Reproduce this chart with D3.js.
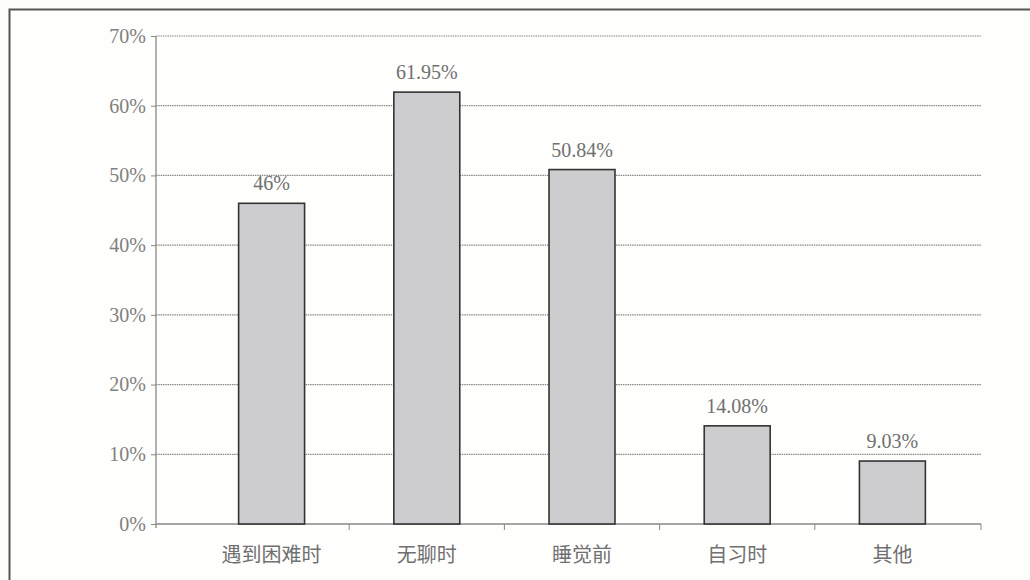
<!DOCTYPE html>
<html>
<head>
<meta charset="utf-8">
<script src="https://cdn.jsdelivr.net/npm/d3@7"></script>
<style>
    body { margin: 0; background: #fdfdfb; }
    .tick-label { font-family: "Liberation Serif", serif; font-size: 20px; fill: #808080; }
    .value-label { font-family: "Liberation Serif", serif; font-size: 20px; fill: #707070; }
    .cat-label { font-family: "Noto Sans CJK SC", sans-serif; font-size: 20px; fill: #707070; }
</style>
</head>
<body>
<div id="viz_container"></div>
<script>
// chart data
const categories = ["遇到困难时", "无聊时", "睡觉前", "自习时", "其他"];
const values = [46, 61.95, 50.84, 14.08, 9.03];
const valueLabels = ["46%", "61.95%", "50.84%", "14.08%", "9.03%"];
const yTicks = [0, 10, 20, 30, 40, 50, 60, 70];

const W = 1030, H = 580;
const plot = { left: 156, right: 981, top: 36, bottom: 524 };

const svg = d3.select("#viz_container")
    .append("svg")
    .attr("width", W)
    .attr("height", H);

// outer frame
svg.append("rect")
    .attr("x", 9.5).attr("y", 9.5)
    .attr("width", W + 10).attr("height", H + 10)
    .attr("fill", "#fefefc")
    .attr("stroke", "#555")
    .attr("stroke-width", 2);

const yScale = d3.scaleLinear()
    .domain([0, 70])
    .range([plot.bottom, plot.top]);

const xScale = d3.scaleBand()
    .domain(categories)
    .range([194, 970])
    .paddingInner(0.575)
    .paddingOuter(0.2875);

// horizontal grid lines
svg.append("g")
    .selectAll("line")
    .data(yTicks.filter(d => d > 0))
    .join("line")
    .attr("x1", plot.left).attr("x2", plot.right)
    .attr("y1", d => yScale(d)).attr("y2", d => yScale(d))
    .attr("stroke", "#8a8a8a")
    .attr("stroke-width", 1.2)
    .attr("stroke-dasharray", "1.5,0.8");

// y axis
const yAxis = svg.append("g")
    .attr("transform", `translate(${plot.left}, 0)`)
    .call(d3.axisLeft(yScale).tickValues(yTicks).tickSize(5).tickPadding(5).tickFormat(d => d + "%"));
yAxis.select(".domain").attr("stroke", "#888").attr("stroke-width", 1.3)
    .attr("d", `M0,${plot.top}V${plot.bottom + 4}`);
yAxis.selectAll(".tick line").attr("stroke", "#888");
yAxis.selectAll(".tick text").attr("class", "tick-label").attr("fill", null);
yAxis.attr("font-family", null).attr("font-size", null);

// x axis line and ticks at band boundaries
svg.append("line")
    .attr("x1", plot.left).attr("x2", plot.right)
    .attr("y1", plot.bottom).attr("y2", plot.bottom)
    .attr("stroke", "#888").attr("stroke-width", 1.3);

const boundaries = categories.slice(1).map(c => xScale(c) - xScale.step() * xScale.paddingInner() / 2);
boundaries.push(plot.right);
svg.append("g")
    .selectAll("line")
    .data(boundaries)
    .join("line")
    .attr("x1", d => d).attr("x2", d => d)
    .attr("y1", plot.bottom).attr("y2", plot.bottom + 6)
    .attr("stroke", "#888");

// bars
svg.append("g")
    .selectAll("rect")
    .data(values)
    .join("rect")
    .attr("x", (d, i) => xScale(categories[i]))
    .attr("y", d => yScale(d))
    .attr("width", xScale.bandwidth())
    .attr("height", d => plot.bottom - yScale(d))
    .attr("fill", "#cdcdcf")
    .attr("stroke", "#333")
    .attr("stroke-width", 1.6);

// value labels
svg.append("g")
    .selectAll("text")
    .data(values)
    .join("text")
    .attr("class", "value-label")
    .attr("x", (d, i) => xScale(categories[i]) + xScale.bandwidth() / 2)
    .attr("y", d => yScale(d) - 13)
    .attr("text-anchor", "middle")
    .text((d, i) => valueLabels[i]);

// category labels
svg.append("g")
    .selectAll("text")
    .data(categories)
    .join("text")
    .attr("class", "cat-label")
    .attr("x", d => xScale(d) + xScale.bandwidth() / 2)
    .attr("y", 562)
    .attr("text-anchor", "middle")
    .text(d => d);
</script>
</body>
</html>
